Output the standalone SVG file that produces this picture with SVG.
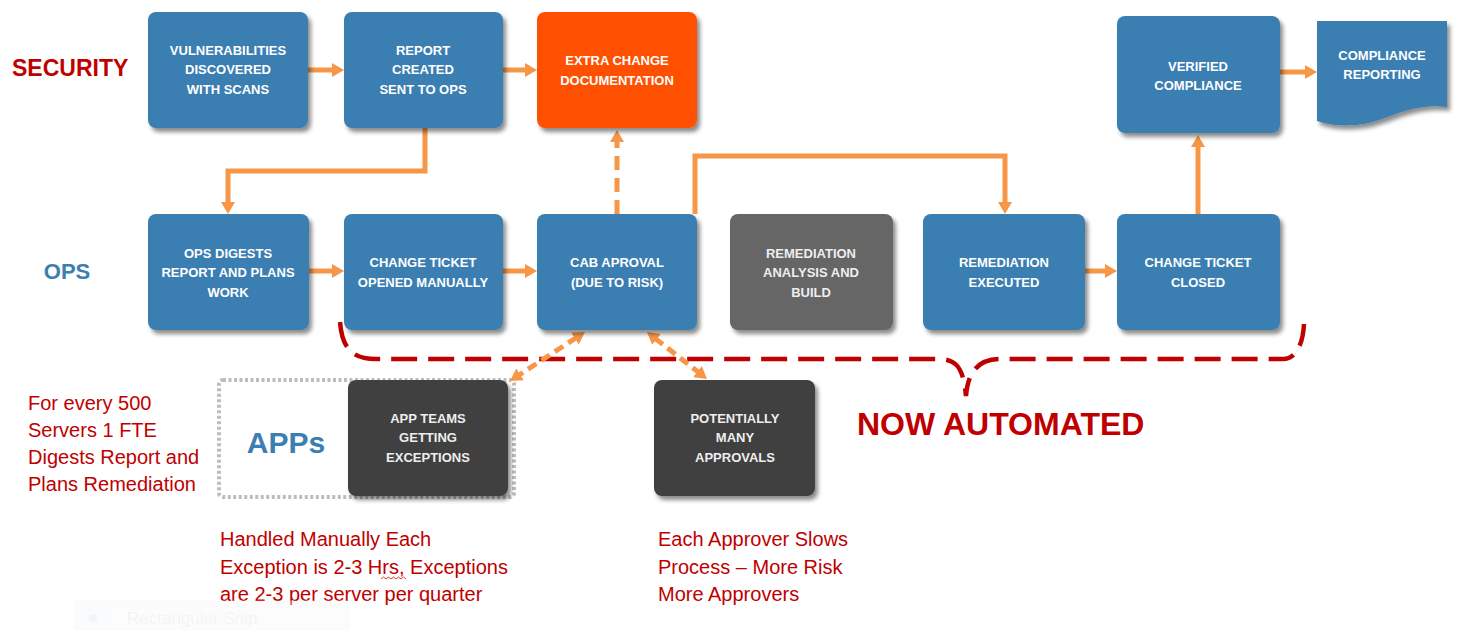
<svg xmlns="http://www.w3.org/2000/svg" width="1459" height="630" viewBox="0 0 1459 630">
  <defs>
    <filter id="shadow" x="-10%" y="-10%" width="125%" height="130%">
      <feDropShadow dx="3" dy="4" stdDeviation="2.2" flood-color="#000" flood-opacity="0.45"/>
    </filter>
    <marker id="arrow" viewBox="0 0 12 14" markerWidth="12" markerHeight="14" refX="2" refY="7" orient="auto-start-reverse" markerUnits="userSpaceOnUse">
      <path d="M0,0 L12,7 L0,14 Z" fill="#F79646"/>
    </marker>
    <style>
      .box { stroke: none; filter: url(#shadow); }
      .blue { fill: #3A7EB2; }
      .orange { fill: #FF5000; }
      .grey { fill: #666666; }
      .dark { fill: #404040; }
      .lbl { font-family: "Liberation Sans", Arial, sans-serif; font-weight: bold; font-size: 13px; fill: #ffffff; text-anchor: middle; }
      .lbl-dim { fill: #eeeeee; }
      .lane { font-family: "Liberation Sans", Arial, sans-serif; font-weight: bold; }
      .note { font-family: "Liberation Sans", Arial, sans-serif; font-size: 20px; fill: #C00000; }
      .flow { fill: none; stroke: #F79646; stroke-width: 5; marker-end: url(#arrow); }
      .dash { stroke-dasharray: 14 8; }
      .both { marker-start: url(#arrow); stroke-dasharray: 10 6; }
      .brace { fill: none; stroke: #C00000; stroke-width: 4.5; stroke-dasharray: 26 11; }
    </style>
  </defs>

  <rect width="1459" height="630" fill="#ffffff"/>

  <!-- lane titles -->
  <text class="lane" x="12" y="76" font-size="23" fill="#C00000">SECURITY</text>
  <text class="lane" x="67" y="279" font-size="22" fill="#3A7EB2" text-anchor="middle">OPS</text>

  <!-- APPs group outline -->
  <g id="apps-group">
    <rect x="219" y="380" width="295" height="117" rx="4" fill="none" stroke="#BDBDBD" stroke-width="4" stroke-dasharray="3 2.5"/>
    <text class="lane" x="286" y="453" font-size="30" fill="#3A7EB2" text-anchor="middle">APPs</text>
  </g>

  <!-- automation brace -->
  <path class="brace" d="M340,322 C342,348 352,359 376,359 H938 C956,359 963,366 966,396 C968,370 980,359 1000,359 H1283 C1296,359 1303,344 1304,324"/>

  <!-- connectors -->
  <g id="connectors">
    <path class="flow" d="M308,70 H334"/>
    <path class="flow" d="M503,70 H527"/>
    <path class="flow" d="M425,128 V171 H228 V204"/>
    <path class="flow" d="M309,271 H334"/>
    <path class="flow" d="M503,271 H527"/>
    <path class="flow dash" d="M617,214 V140"/>
    <path class="flow" d="M695,214 V156 H1005 V204"/>
    <path class="flow" d="M1085,271 H1107"/>
    <path class="flow" d="M1198,214 V145"/>
    <path class="flow" d="M1280,72 H1307"/>
    <path class="flow both" d="M576.6,337.5 L518.4,375.5"/>
    <path class="flow both" d="M654.9,338.2 L699.1,372.8"/>
  </g>

  <!-- security row -->
  <g id="vulnerabilities">
    <rect class="box blue" x="148" y="12" width="160" height="116" rx="8"/>
    <text class="lbl" x="228" y="55">VULNERABILITIES</text>
    <text class="lbl" x="228" y="74">DISCOVERED</text>
    <text class="lbl" x="228" y="94">WITH SCANS</text>
  </g>
  <g id="report-created">
    <rect class="box blue" x="344" y="12" width="159" height="116" rx="8"/>
    <text class="lbl" x="423" y="55">REPORT</text>
    <text class="lbl" x="423" y="74">CREATED</text>
    <text class="lbl" x="423" y="94">SENT TO OPS</text>
  </g>
  <g id="extra-documentation">
    <rect class="box orange" x="537" y="12" width="160" height="116" rx="8"/>
    <text class="lbl" x="617" y="65">EXTRA CHANGE</text>
    <text class="lbl" x="617" y="85">DOCUMENTATION</text>
  </g>
  <g id="verified-compliance">
    <rect class="box blue" x="1117" y="16" width="163" height="117" rx="8"/>
    <text class="lbl" x="1198" y="71">VERIFIED</text>
    <text class="lbl" x="1198" y="90">COMPLIANCE</text>
  </g>
  <g id="compliance-reporting">
    <path class="box blue" d="M1317,21 H1447 V107 C1425,104 1405,110 1385,118 C1362,127 1338,128 1317,121 Z"/>
    <text class="lbl" x="1382" y="60">COMPLIANCE</text>
    <text class="lbl" x="1382" y="79">REPORTING</text>
  </g>

  <!-- ops row -->
  <g id="ops-digests">
    <rect class="box blue" x="148" y="214" width="161" height="116" rx="8"/>
    <text class="lbl" x="228" y="258">OPS DIGESTS</text>
    <text class="lbl" x="228" y="277">REPORT AND PLANS</text>
    <text class="lbl" x="228" y="297">WORK</text>
  </g>
  <g id="change-ticket-opened">
    <rect class="box blue" x="344" y="214" width="159" height="116" rx="8"/>
    <text class="lbl" x="423" y="267">CHANGE TICKET</text>
    <text class="lbl" x="423" y="287">OPENED MANUALLY</text>
  </g>
  <g id="cab-approval">
    <rect class="box blue" x="537" y="214" width="160" height="116" rx="8"/>
    <text class="lbl" x="617" y="267">CAB APROVAL</text>
    <text class="lbl" x="617" y="287">(DUE TO RISK)</text>
  </g>
  <g id="remediation-analysis">
    <rect class="box grey" x="730" y="214" width="163" height="116" rx="8"/>
    <text class="lbl lbl-dim" x="811" y="258">REMEDIATION</text>
    <text class="lbl lbl-dim" x="811" y="277">ANALYSIS AND</text>
    <text class="lbl lbl-dim" x="811" y="297">BUILD</text>
  </g>
  <g id="remediation-executed">
    <rect class="box blue" x="923" y="214" width="162" height="116" rx="8"/>
    <text class="lbl" x="1004" y="267">REMEDIATION</text>
    <text class="lbl" x="1004" y="287">EXECUTED</text>
  </g>
  <g id="change-ticket-closed">
    <rect class="box blue" x="1117" y="214" width="163" height="116" rx="8"/>
    <text class="lbl" x="1198" y="267">CHANGE TICKET</text>
    <text class="lbl" x="1198" y="287">CLOSED</text>
  </g>

  <!-- app row -->
  <g id="app-teams">
    <rect class="box dark" x="348" y="380" width="160" height="116" rx="8"/>
    <text class="lbl lbl-dim" x="428" y="423">APP TEAMS</text>
    <text class="lbl lbl-dim" x="428" y="442">GETTING</text>
    <text class="lbl lbl-dim" x="428" y="462">EXCEPTIONS</text>
  </g>
  <g id="many-approvals">
    <rect class="box dark" x="654" y="380" width="161" height="116" rx="8"/>
    <text class="lbl lbl-dim" x="735" y="423">POTENTIALLY</text>
    <text class="lbl lbl-dim" x="735" y="442">MANY</text>
    <text class="lbl lbl-dim" x="735" y="462">APPROVALS</text>
  </g>

  <text class="lane" x="857" y="435" font-size="32" fill="#C00000">NOW AUTOMATED</text>

  <!-- notes -->
  <text class="note">
    <tspan x="28" y="410">For every 500</tspan>
    <tspan x="28" y="437">Servers 1 FTE</tspan>
    <tspan x="28" y="464">Digests Report and</tspan>
    <tspan x="28" y="491">Plans Remediation</tspan>
  </text>
  <text class="note">
    <tspan x="220" y="546">Handled Manually Each</tspan>
    <tspan x="220" y="574">Exception is 2-3 Hrs, Exceptions</tspan>
    <tspan x="220" y="601">are 2-3 per server per quarter</tspan>
  </text>
  <path d="M381,579 l2.5,-2 l2.5,2 l2.5,-2 l2.5,2 l2.5,-2 l2.5,2 l2.5,-2 l2.5,2 l2.5,-2 l2.5,2" fill="none" stroke="#E04040" stroke-width="1"/>
  <text class="note">
    <tspan x="658" y="546">Each Approver Slows</tspan>
    <tspan x="658" y="574">Process – More Risk</tspan>
    <tspan x="658" y="601">More Approvers</tspan>
  </text>

  <!-- faded snip strip -->
  <g opacity="0.4">
    <rect x="75" y="601" width="273" height="29" fill="#fafafa" stroke="#f0f0f0"/>
    <rect x="76" y="602" width="34" height="27" fill="#f5f7fa"/>
    <circle cx="93" cy="618" r="4" fill="#e6e6e6"/>
    <text x="127" y="624" font-family="'Liberation Sans', Arial, sans-serif" font-size="17" fill="#e4e4e4">Rectangular Snip</text>
  </g>
</svg>
